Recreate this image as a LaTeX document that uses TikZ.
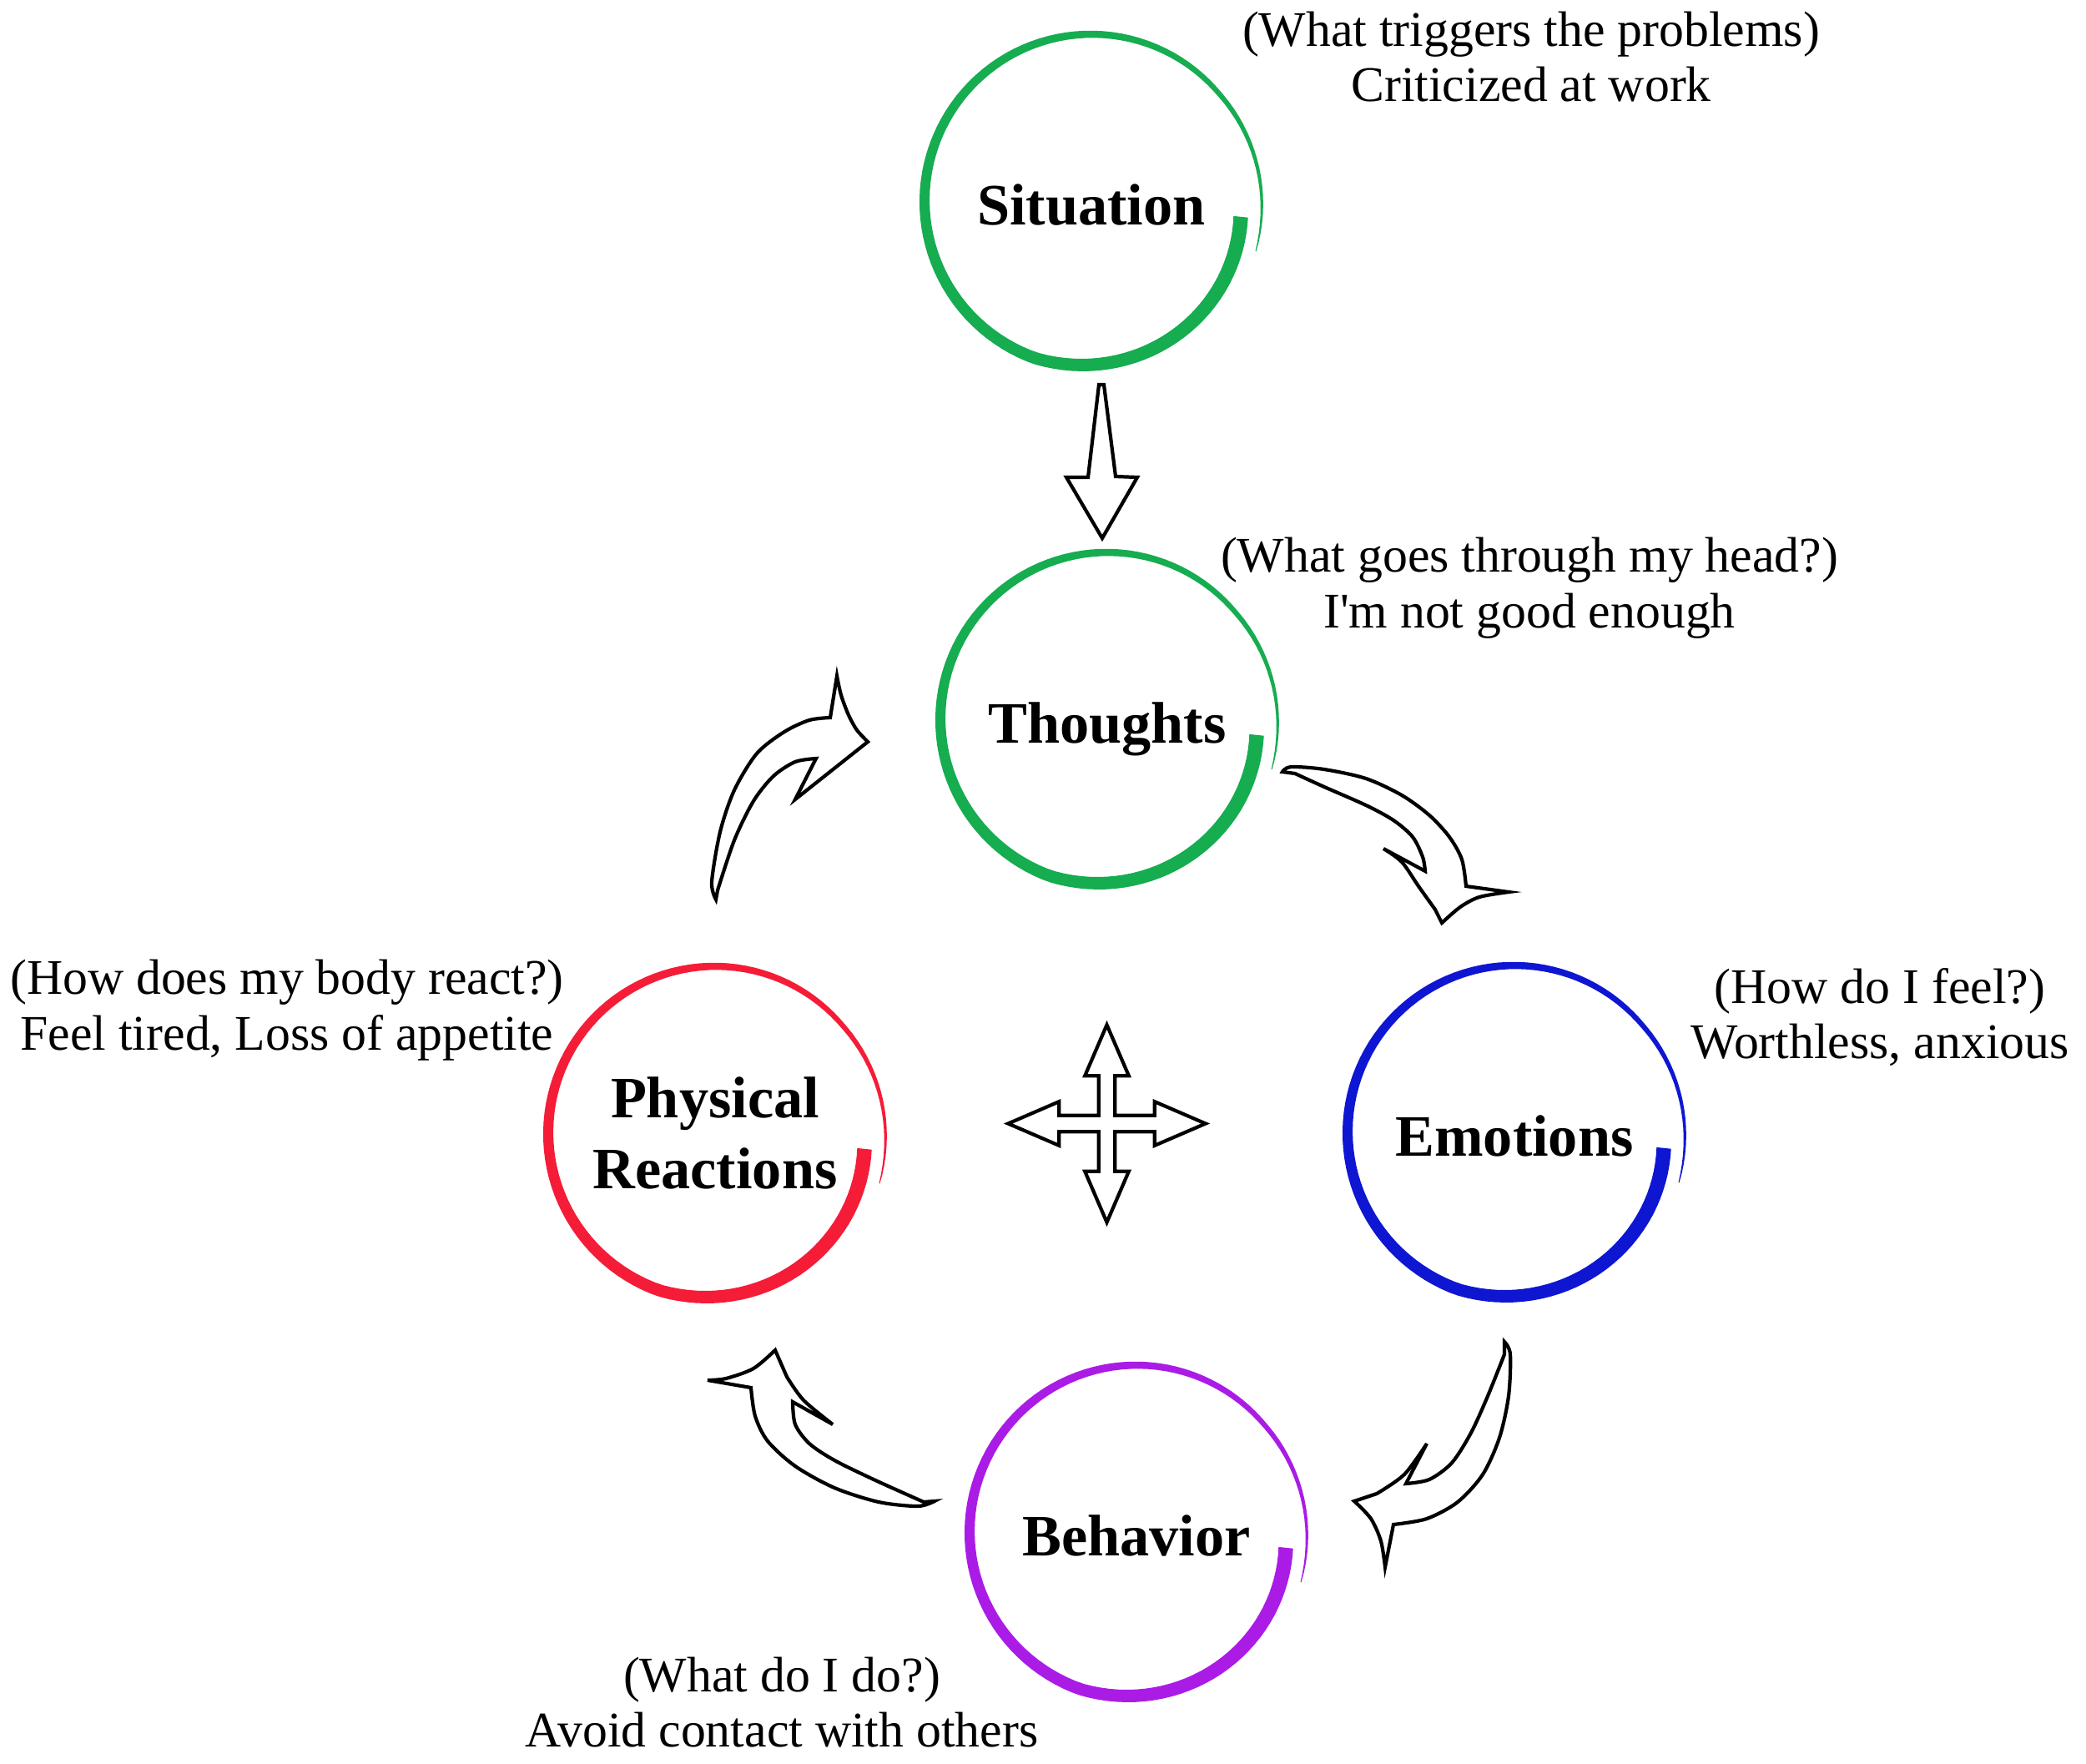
\documentclass[tikz,border=0pt]{standalone}
\usepackage{fontspec}
\setmainfont{Liberation Serif}
\definecolor{ringgreen}{RGB}{22,172,80}
\definecolor{ringblue}{RGB}{14,22,210}
\definecolor{ringred}{RGB}{245,28,56}
\definecolor{ringpurple}{RGB}{170,28,230}
% brush stroke round a stage node
\newcommand{\brushring}[2]{%
  \fill[#2,shift={(#1.center)}] plot[domain=-17:354,samples=120] ({\x}:{ringr(\x)+0.5*ringw(\x)})
    -- plot[domain=354:-17,samples=120] ({\x}:{ringr(\x)-0.5*ringw(\x)}) -- cycle;}
\begin{document}
\begin{tikzpicture}[
  declare function={ringr(\t)=2.00+0.06*max(0,(40-\t)/57)-0.20*max(0,(\t-250)/104);
                    ringw(\t)=0.005+0.17*((\t+18)/372)^0.6;},
  stage/.style={circle,minimum size=4cm,inner sep=0pt,align=center,
    font=\fontsize{20}{24}\selectfont\bfseries},
  oneline/.style={text height=0.56cm,text depth=0pt},
  note/.style={align=center,font=\fontsize{17}{19}\selectfont},
  blockarrow/.style={draw=black,line width=1.2pt,fill=white}]
\useasboundingbox (0,0) rectangle (25,-21.13);

\node[stage,oneline] (sit) at (13.08,-2.41) {Situation};
\node[stage,oneline] (tho) at (13.27,-8.62) {Thoughts};
\node[stage,oneline] (emo) at (18.15,-13.57) {Emotions};
\node[stage] (phy) at (8.57,-13.58) {Physical\\Reactions};
\node[stage,oneline] (beh) at (13.62,-18.36) {Behavior};
\brushring{sit}{ringgreen}
\brushring{tho}{ringgreen}
\brushring{emo}{ringblue}
\brushring{phy}{ringred}
\brushring{beh}{ringpurple}

\node[note] (sitnote) at (18.35,-0.68) {(What triggers the problems)\\Criticized at work};
\node[note] (thonote) at (18.33,-7.05) {(What goes through my head?)\\I\textquotesingle m not good enough};
\node[note] (emonote) at (22.53,-12.19) {(How do I feel?)\\Worthless, anxious};
\node[note] (phynote) at (3.44,-12.11) {(How does my body react?)\\Feel tired, Loss of appetite};
\node[note] (behnote) at (9.37,-20.40) {(What do I do?)\\Avoid contact with others};

% situation -> thoughts
\draw[blockarrow] (13.17,-4.61) -- (13.23,-4.61) -- (13.37,-5.71) -- (13.63,-5.72) -- (13.21,-6.45)
  -- (12.78,-5.72) -- (13.04,-5.72) -- cycle;

% thoughts -> emotions
\draw[blockarrow] plot[smooth] coordinates {(15.37,-9.25) (15.47,-9.19) (15.87,-9.22) (16.37,-9.33)
    (16.80,-9.53) (17.13,-9.77) (17.37,-10.03) (17.52,-10.30) (17.57,-10.62)}
  -- plot[smooth] coordinates {(18.08,-10.69) (17.73,-10.75) (17.50,-10.87) (17.28,-11.06)}
  -- plot[smooth] coordinates {(17.20,-10.90) (17.00,-10.62) (16.80,-10.33) (16.58,-10.17)}
  -- plot[smooth] coordinates {(17.08,-10.44) (17.05,-10.27) (16.93,-10.03) (16.70,-9.83)
    (16.37,-9.65) (15.87,-9.43) (15.52,-9.27)} -- cycle;

% emotions -> behavior
\draw[blockarrow] plot[smooth] coordinates {(18.03,-16.08) (18.10,-16.23) (18.08,-16.73) (17.97,-17.23)
    (17.77,-17.67) (17.47,-18.00) (17.10,-18.20) (16.70,-18.27)}
  -- plot[smooth] coordinates {(16.60,-18.78) (16.55,-18.47) (16.43,-18.20) (16.23,-17.99)}
  -- plot[smooth] coordinates {(16.50,-17.90) (16.83,-17.67) (17.10,-17.30)}
  -- plot[smooth] coordinates {(16.85,-17.78) (17.13,-17.73) (17.40,-17.53) (17.63,-17.17)
    (17.83,-16.73) (18.03,-16.23)} -- cycle;

% behavior -> physical reactions
\draw[blockarrow] plot[smooth] coordinates {(11.20,-17.99) (11.00,-18.05) (10.53,-18.00) (10.00,-17.83)
    (9.53,-17.57) (9.20,-17.27) (9.05,-16.97) (9.00,-16.63)}
  -- plot[smooth] coordinates {(8.48,-16.54) (8.70,-16.52) (9.03,-16.40) (9.29,-16.18)}
  -- plot[smooth] coordinates {(9.43,-16.50) (9.63,-16.78) (9.98,-17.07)}
  -- plot[smooth] coordinates {(9.50,-16.80) (9.53,-17.07) (9.70,-17.30) (10.00,-17.50)
    (10.47,-17.73) (11.07,-18.00)} -- cycle;

% physical reactions -> thoughts
\draw[blockarrow] plot[smooth] coordinates {(8.58,-10.78) (8.53,-10.57) (8.63,-9.97) (8.80,-9.47)
    (9.07,-9.03) (9.40,-8.77) (9.70,-8.63) (9.95,-8.60)}
  -- plot[smooth] coordinates {(10.03,-8.10) (10.08,-8.33) (10.17,-8.57) (10.27,-8.75) (10.40,-8.89)}
  -- (9.53,-9.58)
  -- plot[smooth] coordinates {(9.78,-9.09) (9.53,-9.13) (9.27,-9.30) (9.03,-9.60) (8.80,-10.07)
    (8.60,-10.67)} -- cycle;

% four-way arrow in the middle
\coordinate (mid) at (13.265,-13.465);
\draw[blockarrow,shift={(mid)}] (0.097,0.097) -- (0.097,0.573) -- (0.263,0.573) -- (0,1.183)
  -- (-0.263,0.573) -- (-0.097,0.573) -- (-0.097,0.097) -- (-0.573,0.097) -- (-0.573,0.263)
  -- (-1.183,0) -- (-0.573,-0.263) -- (-0.573,-0.097) -- (-0.097,-0.097) -- (-0.097,-0.573)
  -- (-0.263,-0.573) -- (0,-1.183) -- (0.263,-0.573) -- (0.097,-0.573) -- (0.097,-0.097)
  -- (0.573,-0.097) -- (0.573,-0.263) -- (1.183,0) -- (0.573,0.263) -- (0.573,0.097) -- cycle;
\end{tikzpicture}
\end{document}
